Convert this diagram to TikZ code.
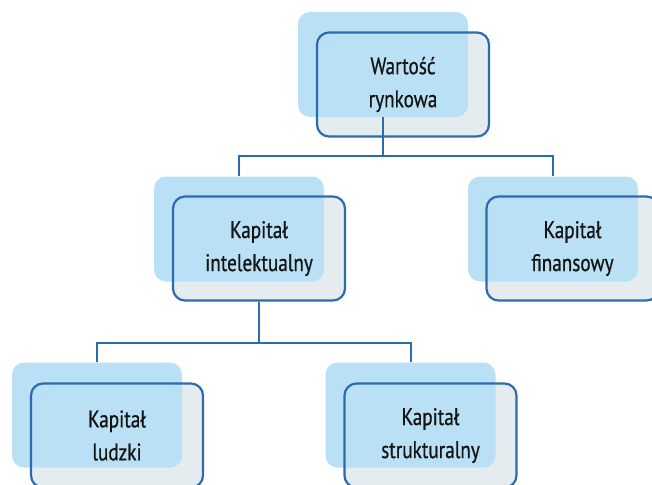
\documentclass[tikz,border=0pt]{standalone}
\usepackage{fontspec}
\setmainfont{PT Sans}[FakeStretch=0.8,FakeBold=0.6]
\definecolor{litblue}{RGB}{185,224,245}
\definecolor{shadegrey}{RGB}{228,236,240}
\definecolor{frameblue}{RGB}{44,107,173}
\definecolor{inktext}{RGB}{20,20,20}
\begin{document}
\begin{tikzpicture}[x=1pt,y=-1pt,
  panel/.style={rectangle,rounded corners=12pt,minimum width=170pt,minimum height=105pt,inner sep=0pt},
  lit/.style={panel,fill=litblue},
  shade/.style={panel,minimum width=172pt,minimum height=104pt,fill=shadegrey},
  frame/.style={panel,minimum width=172pt,minimum height=104pt,draw=frameblue,line width=2.2pt,
    text=inktext,align=center,font=\fontsize{24}{33}\selectfont},
  link/.style={draw=frameblue,line width=2pt}]
\useasboundingbox (0,0) rectangle (652,484);
\clip (0,0) rectangle (652,484);
% market value
\node[shade] (wr-s) at (403,84.5) {};
\node[lit] (wr-l) at (383,64.5) {};
\node[frame] (wr) at (403,84.5) {Wartość\\rynkowa};
% intellectual capital
\node[shade] (ki-s) at (259,248.5) {};
\node[lit] (ki-l) at (239,229) {};
\node[frame] (ki) at (259,248.5) {Kapitał\\intelektualny};
% financial capital
\node[shade] (kf-s) at (572.5,248.5) {};
\node[lit] (kf-l) at (553,229) {};
\node[frame] (kf) at (572.5,248.5) {Kapitał\\finansowy};
% human capital
\node[shade] (kl-s) at (117,435.5) {};
\node[lit] (kl-l) at (97,415) {};
\node[frame] (kl) at (117,435.5) {Kapitał\\ludzki};
% structural capital
\node[shade] (ks-s) at (430.5,435.5) {};
\node[lit] (ks-l) at (410.5,415) {};
\node[frame] (ks) at (430.5,435.5) {Kapitał\\strukturalny};
% connectors
\coordinate (j1) at (383,156);
\coordinate (j2) at (259,343);
\draw[link] (wr-l.south) -- (j1);
\draw[link] (ki-l.north) |- (j1) -| (kf-l.north);
\draw[link] (ki.south) -- (j2);
\draw[link] (kl-l.north) |- (j2) -| (ks-l.north);
\end{tikzpicture}
\end{document}
